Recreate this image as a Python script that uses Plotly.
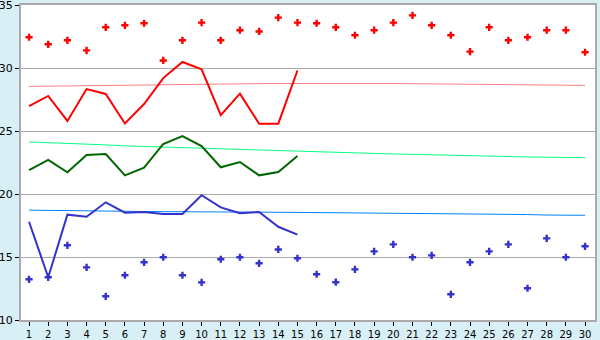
import plotly.graph_objects as go

days = list(range(1, 31))

record_max = [32.44, 31.88, 32.2, 31.4, 33.23, 33.39, 33.55, 30.6, 32.2, 33.6,
              32.2, 33.0, 32.9, 34.0, 33.6, 33.55, 33.23, 32.6, 33.0, 33.6,
              34.18, 33.39, 32.6, 31.3, 33.23, 32.2, 32.44, 33.0, 33.0, 31.25]
record_min = [13.23, 13.39, 15.93, 14.18, 11.88, 13.55, 14.58, 14.98, 13.55, 12.99,
              14.82, 14.98, 14.5, 15.6, 14.9, 13.63, 13.0, 14.02, 15.45, 16.0,
              14.98, 15.13, 12.04, 14.58, 15.45, 16.0, 12.52, 16.48, 14.98, 15.85]
normal_max = [28.54, 28.56, 28.6, 28.62, 28.64, 28.66, 28.69, 28.7, 28.71, 28.72,
              28.73, 28.74, 28.76, 28.77, 28.78, 28.78, 28.78, 28.78, 28.77, 28.77,
              28.76, 28.75, 28.74, 28.72, 28.71, 28.7, 28.69, 28.68, 28.66, 28.62]
normal_avg = [24.13, 24.08, 24.03, 23.97, 23.9, 23.82, 23.77, 23.72, 23.68, 23.64,
              23.6, 23.55, 23.5, 23.42, 23.38, 23.33, 23.3, 23.26, 23.22, 23.18,
              23.14, 23.1, 23.07, 23.03, 23.0, 22.98, 22.94, 22.92, 22.9, 22.88]
normal_min = [18.72, 18.7, 18.63, 18.63, 18.62, 18.62, 18.61, 18.6, 18.6, 18.59,
              18.58, 18.57, 18.56, 18.55, 18.54, 18.53, 18.52, 18.51, 18.49, 18.47,
              18.43, 18.42, 18.41, 18.4, 18.39, 18.39, 18.37, 18.33, 18.32, 18.31]

days_cur = list(range(1, 16))
cur_max = [26.98, 27.78, 25.8, 28.33, 27.94, 25.6, 27.14, 29.2, 30.48, 29.9,
           26.25, 27.96, 25.58, 25.58, 29.8]
cur_avg = [21.9, 22.7, 21.72, 23.1, 23.17, 21.48, 22.09, 23.97, 24.6, 23.8,
           22.12, 22.54, 21.48, 21.75, 23.02]
cur_min = [17.8, 13.39, 18.36, 18.2, 19.34, 18.52, 18.57, 18.41, 18.41, 19.9,
           18.94, 18.47, 18.57, 17.4, 16.77]

fig = go.Figure()
fig.add_trace(go.Scatter(x=days, y=normal_max, mode="lines", line=dict(color="#FF8080", width=1)))
fig.add_trace(go.Scatter(x=days, y=normal_avg, mode="lines", line=dict(color="#00FF80", width=1)))
fig.add_trace(go.Scatter(x=days, y=normal_min, mode="lines", line=dict(color="#0080FF", width=1)))
fig.add_trace(go.Scatter(x=days_cur, y=cur_max, mode="lines", line=dict(color="#FF0000", width=2)))
fig.add_trace(go.Scatter(x=days_cur, y=cur_avg, mode="lines", line=dict(color="#006600", width=2)))
fig.add_trace(go.Scatter(x=days_cur, y=cur_min, mode="lines", line=dict(color="#3333CC", width=2)))
fig.add_trace(go.Scatter(x=days, y=record_max, mode="markers",
                         marker=dict(symbol="cross", size=6, color="#FF0000", line=dict(width=0))))
fig.add_trace(go.Scatter(x=days, y=record_min, mode="markers",
                         marker=dict(symbol="cross", size=6, color="#3333CC", line=dict(width=0))))

fig.update_layout(
    width=600, height=340,
    margin=dict(l=21, r=5, t=5, b=20, autoexpand=False),
    paper_bgcolor="#D9EFF6",
    plot_bgcolor="#FFFFFF",
    showlegend=False,
    font=dict(family="DejaVu Sans", size=10, color="#000000"),
    xaxis=dict(range=[0.58, 30.52], tickmode="array", tickvals=days,
               ticktext=[str(d) for d in days], showgrid=False, zeroline=False,
               ticks="outside", ticklen=4, tickcolor="#000000", automargin=False,
               ticklabeloverflow="allow", ticklabelstandoff=0,
               showline=True, linecolor="#AAAAAA", linewidth=2, mirror=True,
               tickfont=dict(size=10)),
    yaxis=dict(range=[10, 35], tickvals=[10, 15, 20, 25, 30, 35],
               showgrid=True, gridcolor="#AAAAAA", gridwidth=1, zeroline=False,
               ticks="outside", ticklen=4, tickcolor="#000000", automargin=False,
               ticklabeloverflow="allow",
               showline=True, linecolor="#AAAAAA", linewidth=2, mirror=True,
               tickfont=dict(size=11)),
)

fig.write_html("out.html")
